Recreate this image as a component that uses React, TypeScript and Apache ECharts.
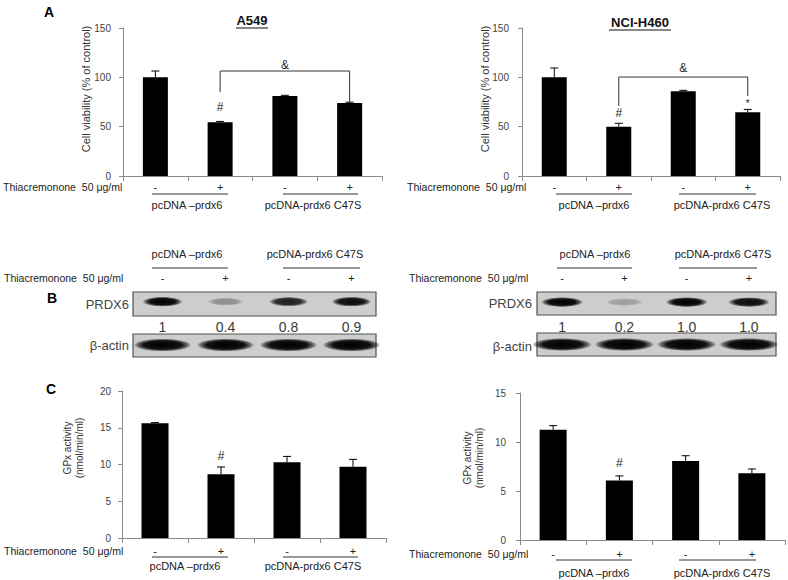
import React, { useEffect, useRef } from 'react';
import * as echarts from 'echarts';

const FONT = 'Liberation Sans, Arial, sans-serif';

// ---------- categories & labels ----------
const treatmentLabels = ['-', '+', '-', '+'];
const groupNames = ['pcDNA \u2013prdx6', 'pcDNA-prdx6 C47S'];
const cellLines = ['A549', 'NCI-H460'];
const treatmentName = 'Thiacremonone  50 \u03bcg/ml';
const viabilityName = 'Cell viability (% of control)';
const gpxName = 'GPx activity\n(nmol/min/ml)';

// ---------- Panel A: cell viability ----------
const viabilityAxis = [0, 150, 50]; // min, max, interval
const a549Viability = [100, 54.5, 81, 74];
const a549ViabilityErr = [6.4, 0.8, 0.8, 0.8];
const h460Viability = [100, 50, 86, 64.5];
const h460ViabilityErr = [9.5, 3.4, 0.8, 3.0];
const a549ViabilityMarkX = [1, 2];
const a549ViabilityMarkY = [70, 112.5];
const a549ViabilityMarkText = ['#', '&'];
const a549ViabilityBracket = [1, 3, 106.4, 85, 74.8]; // from, to, top, fromBottom, toBottom
const h460ViabilityMarkX = [1, 2, 3];
const h460ViabilityMarkY = [64, 109.5, 73];
const h460ViabilityMarkText = ['#', '&', '*'];
const h460ViabilityBracket = [1, 3, 100.3, 71, 81];

// ---------- Panel B: western blot ----------
const a549Prdx6Ratio = ['1', '0.4', '0.8', '0.9'];
const h460Prdx6Ratio = ['1', '0.2', '1.0', '1.0'];
const a549Prdx6Band = [1, 0.3, 0.85, 0.95];
const h460Prdx6Band = [1, 0.22, 1, 0.95];
const a549ActinBand = [1, 1, 1, 1];
const h460ActinBand = [1, 1, 1, 1];

// ---------- Panel C: GPx activity ----------
const a549GpxAxis = [0, 20, 5];
const h460GpxAxis = [0, 15, 5];
const a549Gpx = [15.6, 8.66, 10.3, 9.7];
const a549GpxErr = [0.1, 1.0, 0.8, 1.0];
const h460Gpx = [11.26, 6.07, 8.07, 6.8];
const h460GpxErr = [0.41, 0.47, 0.53, 0.45];
const a549GpxMarkX = [1];
const a549GpxMarkY = [11.2];
const a549GpxMarkText = ['#'];
const h460GpxMarkX = [1];
const h460GpxMarkY = [7.86];
const h460GpxMarkText = ['#'];

const AXIS_COLOR = '#8a8a8a';

function buildOption() {
  const grids = [
    { left: 123, top: 28, width: 259, height: 148 }, // 0 A left
    { left: 522, top: 28, width: 258, height: 148 }, // 1 A right
    { left: 122, top: 391, width: 264, height: 147 }, // 2 C left
    { left: 520, top: 393, width: 265, height: 147 }, // 3 C right
    { left: 131, top: 292, width: 252, height: 23 }, // 4 B prdx left
    { left: 131, top: 334, width: 252, height: 22 }, // 5 B actin left
    { left: 531, top: 292, width: 249, height: 23 }, // 6 B prdx right
    { left: 531, top: 333, width: 249, height: 23 }, // 7 B actin right
  ];

  const barX = (gridIndex: number, margin: number) => ({
    type: 'category',
    gridIndex,
    data: treatmentLabels,
    axisLine: { show: true, lineStyle: { color: AXIS_COLOR, width: 1 } },
    axisTick: { show: true, length: 5, lineStyle: { color: AXIS_COLOR } },
    axisLabel: { interval: 0, margin, fontSize: 11, color: '#222', fontFamily: FONT },
    splitLine: { show: false },
  });
  const barY = (gridIndex: number, cfg: number[], margin: number) => ({
    type: 'value',
    gridIndex,
    min: cfg[0],
    max: cfg[1],
    interval: cfg[2],
    axisLine: { show: true, lineStyle: { color: AXIS_COLOR, width: 1 } },
    axisTick: { show: true, length: 4, lineStyle: { color: AXIS_COLOR } },
    axisLabel: { margin, fontSize: 10, color: '#444', fontFamily: FONT },
    splitLine: { show: false },
  });
  const hiddenX = (gridIndex: number) => ({
    type: 'category', gridIndex, data: treatmentLabels, show: false,
  });
  const labelX = (gridIndex: number, data: string[], position: string, margin: number, fontSize: number, color: string) => ({
    type: 'category', gridIndex, data, position,
    axisLine: { show: false }, axisTick: { show: false }, splitLine: { show: false },
    axisLabel: { interval: 0, margin, fontSize, color, fontFamily: FONT },
  });
  const hiddenY = (gridIndex: number) => ({ type: 'value', gridIndex, min: 0, max: 1, show: false });

  const xAxis = [
    barX(0, 5), barX(1, 5), barX(2, 7), barX(3, 8), // 0-3
    labelX(4, treatmentLabels, 'top', 9, 11, '#222'), // 4
    labelX(4, a549Prdx6Ratio, 'bottom', 5, 14, '#3a3a3a'), // 5
    hiddenX(5), // 6
    labelX(6, treatmentLabels, 'top', 9, 11, '#222'), // 7
    labelX(6, h460Prdx6Ratio, 'bottom', 5, 14, '#3a3a3a'), // 8
    hiddenX(7), // 9
  ];
  const yAxis = [
    barY(0, viabilityAxis, 12), barY(1, viabilityAxis, 13),
    barY(2, a549GpxAxis, 11), barY(3, h460GpxAxis, 14),
    hiddenY(4), hiddenY(5), hiddenY(6), hiddenY(7),
  ];

  const series: any[] = [];
  const addBarPanel = (
    axisIdx: number, values: number[], errs: number[], barWidth: number,
    markX: number[], markY: number[], markText: string[], bracket: number[] | null,
  ) => {
    series.push({
      type: 'bar', xAxisIndex: axisIdx, yAxisIndex: axisIdx, data: values, barWidth,
      itemStyle: { color: '#000' }, silent: true, z: 2,
    });
    series.push({
      type: 'custom', xAxisIndex: axisIdx, yAxisIndex: axisIdx, z: 3, silent: true,
      data: values.map((v, k) => [k, v, errs[k]]),
      renderItem: (_p: any, api: any) => {
        const x = api.value(0), v = api.value(1), e = api.value(2);
        const p0 = api.coord([x, v]);
        const p1 = api.coord([x, v + e]);
        return {
          type: 'group',
          children: [
            { type: 'line', shape: { x1: p0[0], y1: p0[1], x2: p1[0], y2: p1[1] }, style: { stroke: '#000', lineWidth: 1 } },
            { type: 'line', shape: { x1: p1[0] - 4, y1: p1[1], x2: p1[0] + 4, y2: p1[1] }, style: { stroke: '#000', lineWidth: 1 } },
          ],
        };
      },
    });
    series.push({
      type: 'custom', xAxisIndex: axisIdx, yAxisIndex: axisIdx, z: 4, silent: true,
      data: markX.map((x, k) => [x, markY[k]]),
      renderItem: (p: any, api: any) => {
        const c = api.coord([api.value(0), api.value(1)]);
        const t = markText[p.dataIndex];
        return {
          type: 'text',
          x: c[0], y: c[1],
          style: {
            text: t, textAlign: 'center', textVerticalAlign: 'middle',
            fontSize: t === '*' ? 10 : 12, fill: '#222', fontFamily: FONT,
          },
        };
      },
    });
    if (bracket) {
      series.push({
        type: 'custom', xAxisIndex: axisIdx, yAxisIndex: axisIdx, z: 4, silent: true,
        data: [bracket],
        renderItem: (_p: any, api: any) => {
          const a = api.coord([api.value(0), api.value(3)]);
          const b = api.coord([api.value(0), api.value(2)]);
          const c = api.coord([api.value(1), api.value(2)]);
          const d = api.coord([api.value(1), api.value(4)]);
          return {
            type: 'polyline',
            shape: { points: [a, b, c, d] },
            style: { stroke: '#333', lineWidth: 1, fill: null },
          };
        },
      });
    }
  };

  addBarPanel(0, a549Viability, a549ViabilityErr, 25, a549ViabilityMarkX, a549ViabilityMarkY, a549ViabilityMarkText, a549ViabilityBracket);
  addBarPanel(1, h460Viability, h460ViabilityErr, 25, h460ViabilityMarkX, h460ViabilityMarkY, h460ViabilityMarkText, h460ViabilityBracket);
  addBarPanel(2, a549Gpx, a549GpxErr, 27, a549GpxMarkX, a549GpxMarkY, a549GpxMarkText, null);
  addBarPanel(3, h460Gpx, h460GpxErr, 27, h460GpxMarkX, h460GpxMarkY, h460GpxMarkText, null);

  const addBands = (xIdx: number, yIdx: number, band: number[], rx: number, ry: number, yPos: number) => {
    series.push({
      type: 'custom', xAxisIndex: xIdx, yAxisIndex: yIdx, z: 3, silent: true,
      data: band.map((v, k) => [k, v]),
      renderItem: (_p: any, api: any) => {
        const k = api.value(1);
        const c = api.coord([api.value(0), yPos]);
        const w = rx * (0.85 + 0.15 * k);
        const h = ry * (0.7 + 0.3 * k);
        return {
          type: 'ellipse',
          shape: { cx: c[0], cy: c[1], rx: w, ry: h },
          style: {
            fill: new echarts.graphic.RadialGradient(0.5, 0.5, 0.5, [
              { offset: 0, color: `rgba(0,0,0,${k})` },
              { offset: 0.65, color: `rgba(0,0,0,${k * 0.92})` },
              { offset: 0.85, color: `rgba(0,0,0,${k * 0.5})` },
              { offset: 1, color: 'rgba(0,0,0,0)' },
            ]),
          },
        };
      },
    });
  };
  addBands(4, 4, a549Prdx6Band, 20, 5, 0.58);
  addBands(6, 5, a549ActinBand, 29, 6.5, 0.5);
  addBands(7, 6, h460Prdx6Band, 21, 5, 0.56);
  addBands(9, 7, h460ActinBand, 30, 6.5, 0.5);

  // ---------- graphic decorations ----------
  const g: any[] = [];
  const txt = (x: number, y: number, text: string, opts: any = {}) => ({
    type: 'text', x, y, rotation: opts.rotation || 0, z: 10,
    style: {
      text, fontFamily: FONT, fontSize: opts.fontSize || 11, fill: opts.fill || '#222',
      fontWeight: opts.fontWeight || 'normal',
      textAlign: opts.align || 'center', textVerticalAlign: 'middle',
      lineHeight: opts.lineHeight,
    },
  });
  const line = (x1: number, y1: number, x2: number, y2: number, stroke = '#333') => ({
    type: 'line', z: 10, shape: { x1, y1, x2, y2 }, style: { stroke, lineWidth: 1 },
  });
  const groupDecor = (lineY: number, labelY: number, spans: number[][]) => {
    spans.forEach((s, k) => {
      g.push(line(s[0], lineY, s[1], lineY));
      g.push(txt(s[2], labelY, groupNames[k], { fontSize: 11 }));
    });
  };

  // panel letters
  g.push(txt(49, 12, 'A', { fontSize: 14, fontWeight: 'bold', fill: '#000' }));
  g.push(txt(52, 298, 'B', { fontSize: 14, fontWeight: 'bold', fill: '#000' }));
  g.push(txt(51, 389, 'C', { fontSize: 14, fontWeight: 'bold', fill: '#000' }));

  // titles
  g.push(txt(252, 20, cellLines[0], { fontSize: 13, fontWeight: 'bold', fill: '#111' }));
  g.push(line(236, 28, 268, 28, '#111'));
  g.push(txt(640, 22, cellLines[1], { fontSize: 13, fontWeight: 'bold', fill: '#111' }));
  g.push(line(609, 30, 671, 30, '#111'));

  // y axis names
  g.push(txt(86, 89, viabilityName, { fontSize: 11, rotation: Math.PI / 2, fill: '#333' }));
  g.push(txt(485, 89, viabilityName, { fontSize: 11, rotation: Math.PI / 2, fill: '#333' }));
  g.push(txt(73, 448, gpxName, { fontSize: 10, rotation: Math.PI / 2, fill: '#333', lineHeight: 12 }));
  g.push(txt(473, 458, gpxName, { fontSize: 10, rotation: Math.PI / 2, fill: '#333', lineHeight: 12 }));

  // treatment row names
  const tOpts = { align: 'left', fontSize: 10.5 };
  g.push(txt(3, 186.5, treatmentName, tOpts));
  g.push(txt(407, 186.5, treatmentName, tOpts));
  g.push(txt(4, 278, treatmentName, tOpts));
  g.push(txt(409, 278, treatmentName, tOpts));
  g.push(txt(4, 551, treatmentName, tOpts));
  g.push(txt(409, 554, treatmentName, tOpts));

  // group lines/labels
  groupDecor(194, 205, [[152, 228, 187], [283, 358, 313]]);
  groupDecor(194, 205, [[556, 632, 594], [679, 756, 722]]);
  groupDecor(268, 254, [[152, 228, 187], [283, 360, 315]]);
  groupDecor(268, 254, [[557, 632, 595], [679, 757, 723]]);
  groupDecor(557, 566, [[152, 228, 185], [283, 358, 313]]);
  groupDecor(560, 573, [[556, 632, 594], [679, 756, 722]]);

  // blot boxes
  const box = (x: number, y: number, w: number, h: number) => ({
    type: 'rect', z: 0, shape: { x, y, width: w, height: h },
    style: { fill: '#cdcdcd', stroke: '#505050', lineWidth: 1.2 },
  });
  g.push(box(133, 292, 243, 24));
  g.push(box(133, 334, 243, 23));
  g.push(box(537, 292, 239, 23));
  g.push(box(537, 333, 239, 23));
  g.push(txt(129, 304, 'PRDX6', { align: 'right', fontSize: 13, fill: '#444' }));
  g.push(txt(129, 345, '\u03b2-actin', { align: 'right', fontSize: 13, fill: '#444' }));
  g.push(txt(532, 303, 'PRDX6', { align: 'right', fontSize: 13, fill: '#444' }));
  g.push(txt(532, 346, '\u03b2-actin', { align: 'right', fontSize: 13, fill: '#444' }));

  return {
    animation: false,
    backgroundColor: '#fff',
    textStyle: { fontFamily: FONT },
    grid: grids,
    xAxis,
    yAxis,
    series,
    graphic: { elements: g },
  };
}

export default function App() {
  const ref = useRef<HTMLDivElement>(null);
  useEffect(() => {
    document.body.style.margin = '0';
    if (!ref.current) return;
    const chart = echarts.init(ref.current, undefined, { renderer: 'svg' });
    chart.setOption(buildOption() as any);
    return () => chart.dispose();
  }, []);
  return <div ref={ref} style={{ width: 788, height: 580 }} />;
}
